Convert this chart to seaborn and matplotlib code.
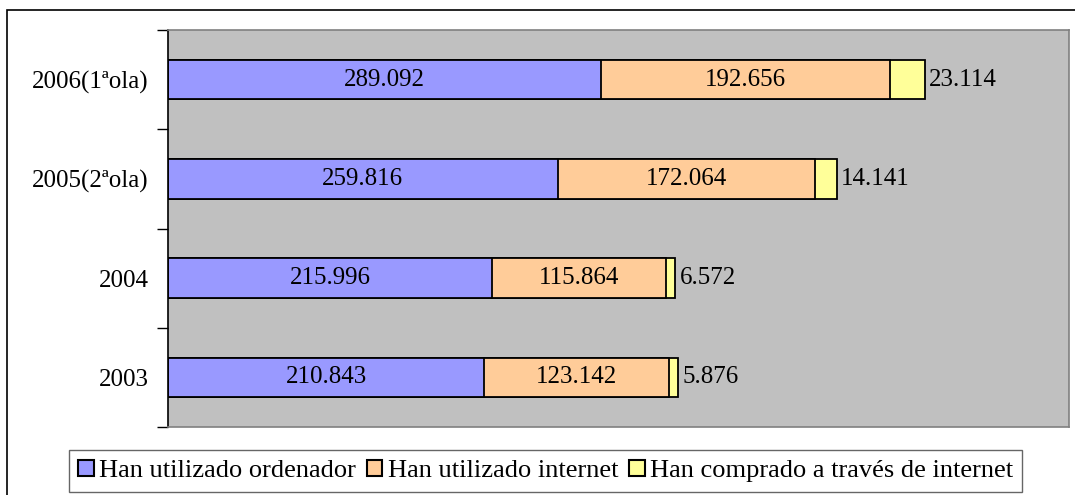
import matplotlib
matplotlib.use("Agg")
import matplotlib.pyplot as plt
import seaborn as sns
import pandas as pd
import numpy as np
from matplotlib.patches import Rectangle

categories = ["2006(1ªola)", "2005(2ªola)", "2004", "2003"]
ordenador = [289.092, 259.816, 215.996, 210.843]
internet = [192.656, 172.064, 115.864, 123.142]
comprado = [23.114, 14.141, 6.572, 5.876]
series_names = ["Han utilizado ordenador", "Han utilizado internet",
                "Han comprado a través de internet"]
colors = ["#9999FF", "#FFCC99", "#FFFF99"]

sns.set_theme(style="white")
plt.rcParams['font.family'] = ['Liberation Serif', 'DejaVu Serif']
plt.rcParams['text.color'] = 'black'
plt.rcParams['ytick.labelcolor'] = 'black'
plt.rcParams['legend.labelcolor'] = 'black'

fig = plt.figure(figsize=(10.75, 4.95), dpi=100)
ax = fig.add_axes([168/1075, 1-427/495, (1069-168)/1075, (427-30)/495])
ax.set_facecolor("#C0C0C0")

ordenador_a = np.array(ordenador)
internet_a = np.array(internet)
comprado_a = np.array(comprado)
cum1 = ordenador_a
cum2 = ordenador_a + internet_a
cum3 = cum2 + comprado_a

layers = [(cum3, colors[2]), (cum2, colors[1]), (cum1, colors[0])]
for vals, col in layers:
    df = pd.DataFrame({"cat": categories, "val": vals})
    sns.barplot(data=df, y="cat", x="val", orient="h", color=col,
                width=0.4, edgecolor="black", linewidth=1.3,
                saturation=1, ax=ax, order=categories)

fs = 18
for i in range(len(categories)):
    ax.text(ordenador_a[i] / 2, i, f"{ordenador[i]:.3f}", ha="center",
            va="center", fontsize=fs, color="black")
    ax.text(ordenador_a[i] + internet_a[i] / 2, i, f"{internet[i]:.3f}",
            ha="center", va="center", fontsize=fs, color="black")
    ax.text(cum3[i] + 3, i, f"{comprado[i]:.3f}", ha="left",
            va="center", fontsize=fs, color="black")

ax.set_xlim(0, 601)
ax.set_ylim(3.5, -0.5)
ax.set_xlabel("")
ax.set_ylabel("")
ax.set_xticks([])
ax.set_yticks(range(len(categories)))
ax.set_yticklabels(categories, fontsize=18, color="black")
ax.set_yticks(np.arange(-0.5, len(categories), 1.0), minor=True)
ax.tick_params(axis="y", which="major", length=0, pad=14)
ax.tick_params(axis="y", which="minor", length=8, width=1, color="black",
               direction="out", left=True)
for s in ["top", "right", "bottom"]:
    ax.spines[s].set_color("#808080")
    ax.spines[s].set_linewidth(1.2)
ax.spines["left"].set_color("black")
ax.spines["left"].set_linewidth(1.2)

handles = [Rectangle((0, 0), 1, 1, facecolor=c, edgecolor="black", linewidth=1.5)
           for c in colors]
leg = fig.legend(handles, series_names, loc="center",
                 bbox_to_anchor=(545.5/1075, 1-471/495), ncol=3, fontsize=19,
                 frameon=True, fancybox=False, handlelength=0.6,
                 handleheight=0.6, handletextpad=0.2, columnspacing=0.4,
                 borderpad=0.35, borderaxespad=0)
leg.get_frame().set_edgecolor("#404040")
leg.get_frame().set_linewidth(1.0)

border = Rectangle((7/1075, -0.05), 1.2, 1 - 9.5/495 + 0.05,
                   transform=fig.transFigure, fill=False,
                   edgecolor="black", linewidth=1.2, clip_on=False)
fig.patches.append(border)

fig.savefig("out.png", dpi=100)
